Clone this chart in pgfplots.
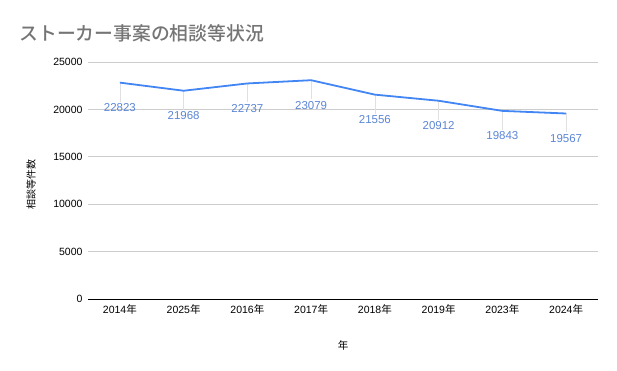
\documentclass[border=0pt]{standalone}
\usepackage{pgfplots}
\pgfplotsset{compat=1.18}
\usepackage{fontspec}
\setmainfont{Liberation Sans}
\newfontfamily\cjk{Noto Sans CJK JP}
\newfontfamily\cjkb{Noto Sans CJK JP Medium}
\definecolor{lineblue}{HTML}{4285F4}
\definecolor{labblue}{HTML}{5B85D6}
\definecolor{gridgray}{HTML}{CCCCCC}
\definecolor{leadgray}{HTML}{E0E0E0}
\definecolor{titlegray}{HTML}{757575}
\begin{document}
\begin{tikzpicture}[x=1pt,y=1pt]
\path[use as bounding box] (0,0) rectangle (617,371);
\begin{axis}[
  at={(88pt,72pt)}, anchor=south west,
  scale only axis, width=510pt, height=237pt,
  xmin=-0.5, xmax=7.5, ymin=0, ymax=25000,
  xtick=data,
  xticklabels={2014{\cjk 年},2025{\cjk 年},2016{\cjk 年},2017{\cjk 年},2018{\cjk 年},2019{\cjk 年},2023{\cjk 年},2024{\cjk 年}},
  ytick={0,5000,10000,15000,20000,25000},
  /pgf/number format/assume math mode=true,
  /pgf/number format/set thousands separator={},
  scaled y ticks=false,
  ymajorgrids, grid style={gridgray, line width=0.8pt},
  axis x line*=bottom, axis y line*=left,
  x axis line style={black, line width=0.8pt, -},
  y axis line style={draw=none},
  major tick length=0pt,
  tick label style={font=\fontsize{10.5}{12}\selectfont, black},
  xticklabel style={yshift=-2pt},
  yticklabel style={xshift=-2pt},
  clip=false,
]
\addplot[leadgray, line width=0.6pt, forget plot,
  error bars/.cd, y dir=minus, y fixed=2000,
  error mark=none, error bar style={leadgray, line width=0.6pt}]
  coordinates {(0,22823)(1,21968)(2,22737)(3,23079)(4,21556)(5,20912)(6,19843)(7,19567)};
\addplot[lineblue, line width=1.8pt, mark=none,
  nodes near coords,
  every node near coord/.append style={font=\fontsize{11.5}{13}\selectfont, labblue, anchor=north, yshift=-19pt, inner sep=1pt},
  ]
  coordinates {(0,22823)(1,21968)(2,22737)(3,23079)(4,21556)(5,20912)(6,19843)(7,19567)};
\end{axis}
\node[anchor=west, text=titlegray, font=\cjkb\fontsize{18.8}{22}\selectfont] at (16,338) {ストーカー事案の相談等状況};
\node[rotate=90, font=\cjk\fontsize{10}{12}\selectfont] at (31,186) {相談等件数};
\node[font=\cjk\fontsize{10.5}{12}\selectfont] at (343,26) {年};
\end{tikzpicture}
\end{document}
